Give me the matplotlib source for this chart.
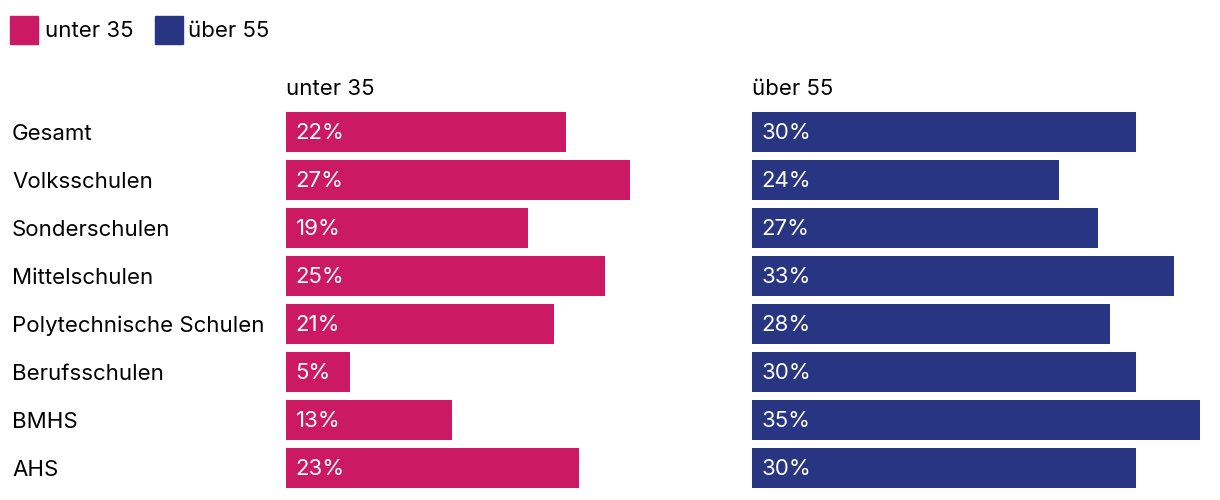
import matplotlib.pyplot as plt
from matplotlib.patches import Rectangle

plt.rcParams['font.family'] = ['Inter', 'DejaVu Sans']

schularten = ['Gesamt', 'Volksschulen', 'Sonderschulen', 'Mittelschulen',
              'Polytechnische Schulen', 'Berufsschulen', 'BMHS', 'AHS']
unter_35 = [22, 27, 19, 25, 21, 5, 13, 23]
ueber_55 = [30, 24, 27, 33, 28, 30, 35, 30]
serien = ['unter 35', 'über 55']
farben = ['#CC1963', '#283583']

W, H = 1220, 500
fig = plt.figure(figsize=(W / 100, H / 100), dpi=100)
fs = 16

def px_box(x0, y0, x1, y1):
    return [x0 / W, 1 - y1 / H, (x1 - x0) / W, (y1 - y0) / H]

panels = [(286, 446, unter_35), (752, 448, ueber_55)]
for (x0, breite, werte), name, farbe in zip(panels, serien, farben):
    ax = fig.add_axes(px_box(x0, 108, x0 + breite, 492))
    y = range(len(schularten))
    ax.barh(y, werte, height=40 / 48, color=farbe)
    for yi, v in zip(y, werte):
        ax.text(0.75, yi + 0.03, f'{v}%', color='white', fontsize=fs, va='center', ha='left')
    ax.set_xlim(0, 35)
    ax.set_ylim(len(schularten) - 0.5, -0.5)
    ax.axis('off')
    fig.text(x0 / W, 1 - 89 / H, name, fontsize=fs, va='center', ha='left')

for i, lab in enumerate(schularten):
    fig.text(12 / W, 1 - (133.5 + 48 * i) / H, lab, fontsize=fs, va='center', ha='left')

# Legende
for (lx, tx), name, farbe in zip([(10, 45), (155, 188)], serien, farben):
    fig.patches.append(Rectangle((lx / W, 1 - 44 / H), 28 / W, 28 / H,
                                 transform=fig.transFigure, color=farbe))
    fig.text(tx / W, 1 - 31 / H, name, fontsize=fs, va='center', ha='left')

fig.savefig('out.png', dpi=100)
